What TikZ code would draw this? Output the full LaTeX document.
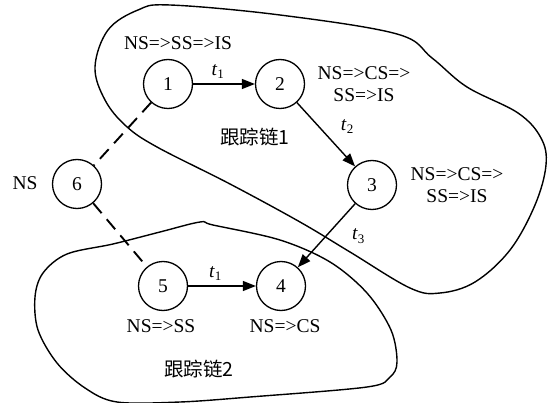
\documentclass[tikz,border=0pt]{standalone}
\usepackage{fontspec}
\setmainfont{Liberation Serif}
\newfontfamily\cjk{Noto Sans CJK SC}
\usetikzlibrary{arrows.meta}
\newcommand\tlab[1]{\textit{t}\raisebox{-0.4ex}{\fontsize{13}{13}\selectfont #1}}
\begin{document}
\begin{tikzpicture}[x=1pt,y=-1pt,
  every node/.style={font=\fontsize{19.5}{22}\selectfont},
  state/.style={circle,draw,line width=1.3pt,minimum size=49pt,inner sep=0pt},
  lbl/.style={inner sep=1pt,align=center},
  arr/.style={line width=1.4pt,-{Triangle[length=13pt,width=10pt]}},
  dsh/.style={line width=1.9pt,dash pattern=on 13pt off 8pt},
  blob/.style={line width=1.4pt}]
\useasboundingbox (0,0) rectangle (551,403);
% blobs
\draw[blob] plot[smooth cycle,tension=0.6] coordinates {
  (170,5) (280,15) (397,34) (432,58) (467,87) (518,113) (541,138) (546,165)
  (535,205) (510,250) (475,282) (440,293) (410,288) (350,252) (300,222)
  (230,184) (157,147) (126,126) (105,100) (95,67) (108,30) (138,10)};
\draw[blob] plot[smooth cycle,tension=0.55] coordinates {
  (200,222) (213,225) (280,240) (330,262) (367,293) (391,330) (397,362)
  (390,377) (367,387) (250,397) (180,402) (117,402) (85,388) (57,363)
  (38,330) (35,297) (43,273) (67,254) (113,244) (160,232)};
% nodes
\node[state] (n1) at (168,84) {1};
\node[state] (n2) at (280,84) {2};
\node[state] (n3) at (372,185) {3};
\node[state] (n4) at (281,286) {4};
\node[state] (n5) at (163,286) {5};
\node[state] (n6) at (77,184) {6};
% labels
\node[lbl] (l1) at (178,43) {NS=>SS=>IS};
\node[lbl] (l2) at (364,84) {NS=>CS=>\\SS=>IS};
\node[lbl] (l3) at (457,185) {NS=>CS=>\\SS=>IS};
\node[lbl] (l6) at (25,183) {NS};
\node[lbl] (l5) at (161,326) {NS=>SS};
\node[lbl] (l4) at (285,326) {NS=>CS};
\node[lbl] (c1) at (255,137) {\cjk 跟踪链1};
\node[lbl] (c2) at (199,369) {\cjk 跟踪链2};
% connectors
\draw[arr] (n1) -- node[pos=0.4,above=1pt] {\tlab{1}} (n2);
\draw[arr] (n2) -- node[pos=0.45,xshift=24pt,yshift=5pt] {\tlab{2}} (n3);
\draw[arr] (n3) -- node[pos=0.4,xshift=26pt,yshift=-7pt] {\tlab{3}} (n4);
\draw[arr] (n5) -- node[pos=0.4,above=1pt] {\tlab{1}} (n4);
\draw[dsh] (n1) -- (n6);
\draw[dsh] (n6) -- (n5);
\end{tikzpicture}
\end{document}
